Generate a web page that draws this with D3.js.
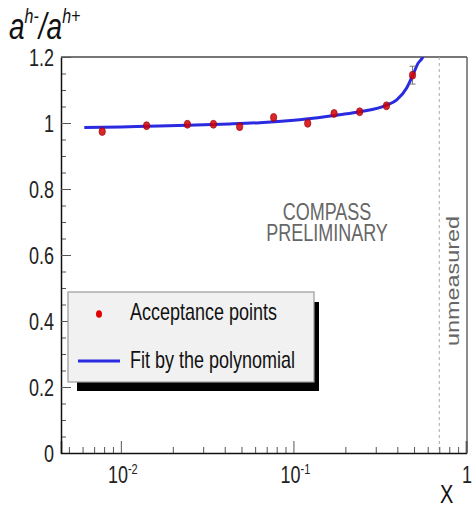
<!DOCTYPE html>
<html>
<head>
<meta charset="utf-8">
<script src="https://cdn.jsdelivr.net/npm/d3@7"></script>
<style>
  body { margin: 0; background: #fff; }
  text { font-family: "Liberation Sans", Arial, sans-serif; }
</style>
</head>
<body>
<div id="chart"></div>
<script>
// data
var accX = [0.0078, 0.0141, 0.0243, 0.0344, 0.0488, 0.0768, 0.121, 0.172, 0.242, 0.346, 0.490];
var accY = [0.974, 0.992, 0.996, 0.996, 0.989, 1.017, 0.999, 1.029, 1.034, 1.052, 1.145];
var accErr = [0, 0, 0, 0, 0, 0, 0, 0, 0, 0, 0.027];

var fitX = [0.00614, 0.01, 0.0141, 0.0243, 0.0427, 0.0637, 0.1087, 0.1855, 0.242, 0.3475, 0.3967, 0.454, 0.492, 0.526, 0.562, 0.59];
var fitY = [0.986, 0.988, 0.990, 0.993, 0.997, 1.001, 1.010, 1.025, 1.034, 1.054, 1.070, 1.107, 1.145, 1.180, 1.200, 1.23];

var yMajor = [0, 0.2, 0.4, 0.6, 0.8, 1, 1.2];
var yMinor = [0.05, 0.1, 0.15, 0.25, 0.3, 0.35, 0.45, 0.5, 0.55, 0.65, 0.7, 0.75, 0.85, 0.9, 0.95, 1.05, 1.1, 1.15];
var xMajor = [0.01, 0.1, 1];
var xMajorExp = ["-2", "-1", ""];
var xMinor = [0.005, 0.006, 0.007, 0.008, 0.009, 0.02, 0.03, 0.04, 0.05, 0.06, 0.07, 0.08, 0.09,
              0.2, 0.3, 0.4, 0.5, 0.6, 0.7, 0.8, 0.9];
var unmeasuredX = 0.7;

var width = 472, height = 509;
var frame = {left: 61, right: 466, top: 57, bottom: 453};
var stretch = 1.3; // text in the picture is taller than wide

var svg = d3.select("#chart").append("svg")
    .attr("width", width)
    .attr("height", height);

var x = d3.scaleLog().domain([0.0045, 1]).range([frame.left, frame.right]);
var y = d3.scaleLinear().domain([0, 1.2]).range([frame.bottom, frame.top]);

svg.append("defs").append("clipPath").attr("id", "plot")
  .append("rect")
    .attr("x", frame.left).attr("y", frame.top)
    .attr("width", frame.right - frame.left).attr("height", frame.bottom - frame.top);

// frame top / right
svg.append("line")
    .attr("x1", frame.left).attr("x2", frame.right + 1)
    .attr("y1", frame.top).attr("y2", frame.top)
    .attr("stroke", "#777").attr("stroke-width", 2);
svg.append("line")
    .attr("x1", frame.right + 1).attr("x2", frame.right + 1)
    .attr("y1", frame.top).attr("y2", frame.bottom)
    .attr("stroke", "#666").attr("stroke-width", 1.5);

// unmeasured boundary
svg.append("line")
    .attr("x1", x(unmeasuredX)).attr("x2", x(unmeasuredX))
    .attr("y1", frame.top).attr("y2", frame.bottom)
    .attr("stroke", "#aaa").attr("stroke-width", 1)
    .attr("stroke-dasharray", "3,3");

// y axis
var yAxisMinor = svg.append("g").attr("transform", "translate(" + frame.left + ",0)")
    .call(d3.axisRight(y).tickValues(yMinor).tickSize(5).tickFormat(""));
var yAxis = svg.append("g").attr("transform", "translate(" + frame.left + ",0)")
    .call(d3.axisLeft(y).tickValues(yMajor).tickSizeInner(-10).tickSizeOuter(0).tickPadding(7)
      .tickFormat(function(d){ return d3.format("")(+d.toFixed(1)); }));
yAxisMinor.select(".domain").remove();
yAxis.select(".domain").attr("stroke", "#111").attr("stroke-width", 1.5);
svg.selectAll(".tick line").attr("stroke", "#666");
yAxis.selectAll(".tick text")
    .attr("font-size", 18).attr("fill", "#222")
    .attr("font-family", "Liberation Sans, Arial, sans-serif")
    .attr("dy", "0.35em")
    .attr("transform", "scale(1," + stretch + ")");

// x axis
var xAxisMinor = svg.append("g").attr("transform", "translate(0," + frame.bottom + ")")
    .call(d3.axisTop(x).tickValues(xMinor).tickSize(6).tickFormat(""));
var xAxis = svg.append("g").attr("transform", "translate(0," + frame.bottom + ")")
    .call(d3.axisTop(x).tickValues(xMajor).tickSize(12).tickFormat(""));
xAxisMinor.select(".domain").remove();
xAxis.select(".domain").attr("stroke", "#111").attr("stroke-width", 1.5);
svg.selectAll(".tick line").attr("stroke", "#555");

// x tick labels with exponent
xMajor.forEach(function(v, i){
  var g = svg.append("g")
      .attr("transform", "translate(" + x(v) + "," + (frame.bottom + 30) + ") scale(1," + stretch + ")");
  var t = g.append("text")
      .attr("font-size", 18).attr("fill", "#222")
      .attr("text-anchor", xMajorExp[i] ? "middle" : "start")
      .attr("x", xMajorExp[i] ? 2 : -4);
  t.append("tspan").text(xMajorExp[i] ? "10" : "1");
  if (xMajorExp[i]) {
    t.append("tspan").attr("font-size", 11).attr("dy", -7).text(xMajorExp[i]);
  }
});

// axis titles
svg.append("g").attr("transform", "translate(440,503) scale(1," + stretch + ")")
  .append("text").attr("font-size", 20).attr("fill", "#111").text("X");

var yt = svg.append("g").attr("transform", "translate(9,39) scale(1," + stretch + ")")
  .append("text")
    .attr("font-family", "Liberation Serif, Times New Roman, serif")
    .attr("font-style", "italic").attr("font-size", 28).attr("fill", "#111");
yt.append("tspan").text("a");
yt.append("tspan").attr("font-size", 16).attr("dy", -12).text("h-");
yt.append("tspan").attr("dy", 12).text("/a");
yt.append("tspan").attr("font-size", 16).attr("dy", -12).text("h+");

// watermark
var watermark = ["COMPASS", "PRELIMINARY"];
var wm = svg.append("g").attr("transform", "translate(327,220) scale(1," + stretch + ")");
watermark.forEach(function(s, i){
  wm.append("text").attr("text-anchor", "middle").attr("font-size", 18).attr("fill", "#666")
    .attr("x", 0).attr("y", i * 16.5).text(s);
});

svg.append("g").attr("transform", "translate(459,281) scale(1," + stretch + ") rotate(-90)")
  .append("text").attr("text-anchor", "middle").attr("font-size", 18).attr("fill", "#666")
  .text("unmeasured");

// fit curve
var plot = svg.append("g").attr("clip-path", "url(#plot)");
var line = d3.line()
    .x(function(d, i){ return x(fitX[i]); })
    .y(function(d, i){ return y(fitY[i]); })
    .curve(d3.curveMonotoneX);
plot.append("path")
    .datum(fitX)
    .attr("d", line)
    .attr("fill", "none")
    .attr("stroke", "#2a2ae0")
    .attr("stroke-width", 3);

// points
var pts = svg.append("g").selectAll("g").data(d3.range(accX.length)).enter().append("g");
pts.filter(function(i){ return accErr[i] > 0; }).append("path")
    .attr("d", function(i){
      var x0 = x(accX[i]), y1 = y(accY[i] + accErr[i]), y2 = y(accY[i] - accErr[i]);
      return "M" + x0 + "," + y1 + "V" + y2 + "M" + (x0 - 3) + "," + y1 + "H" + (x0 + 3) +
             "M" + (x0 - 3) + "," + y2 + "H" + (x0 + 3);
    })
    .attr("stroke", "#777").attr("stroke-width", 1).attr("fill", "none");
pts.append("ellipse")
    .attr("cx", function(i){ return x(accX[i]); })
    .attr("cy", function(i){ return y(accY[i]); })
    .attr("rx", 3.2).attr("ry", 4)
    .attr("fill", "#d40000").attr("fill-opacity", 0.85)
    .attr("stroke", "#8a0010").attr("stroke-width", 0.6);

// legend
var legend = svg.append("g");
legend.append("rect")
    .attr("x", 77).attr("y", 302).attr("width", 242).attr("height", 89)
    .attr("fill", "#000");
legend.append("rect")
    .attr("x", 68).attr("y", 292).attr("width", 246).attr("height", 90)
    .attr("fill", "#f1f1f1").attr("stroke", "#999").attr("stroke-width", 1.2);
legend.append("ellipse").attr("cx", 99).attr("cy", 314).attr("rx", 3).attr("ry", 3.8)
    .attr("fill", "#e00000");
legend.append("line").attr("x1", 78).attr("x2", 120).attr("y1", 361).attr("y2", 361)
    .attr("stroke", "#2a2ae0").attr("stroke-width", 3);
legend.append("g").attr("transform", "translate(130,320) scale(1," + stretch + ")")
  .append("text").attr("font-size", 18).attr("fill", "#111").text("Acceptance points");
legend.append("g").attr("transform", "translate(130,368) scale(1," + stretch + ")")
  .append("text").attr("font-size", 18).attr("fill", "#111").text("Fit by the polynomial");
</script>
</body>
</html>
